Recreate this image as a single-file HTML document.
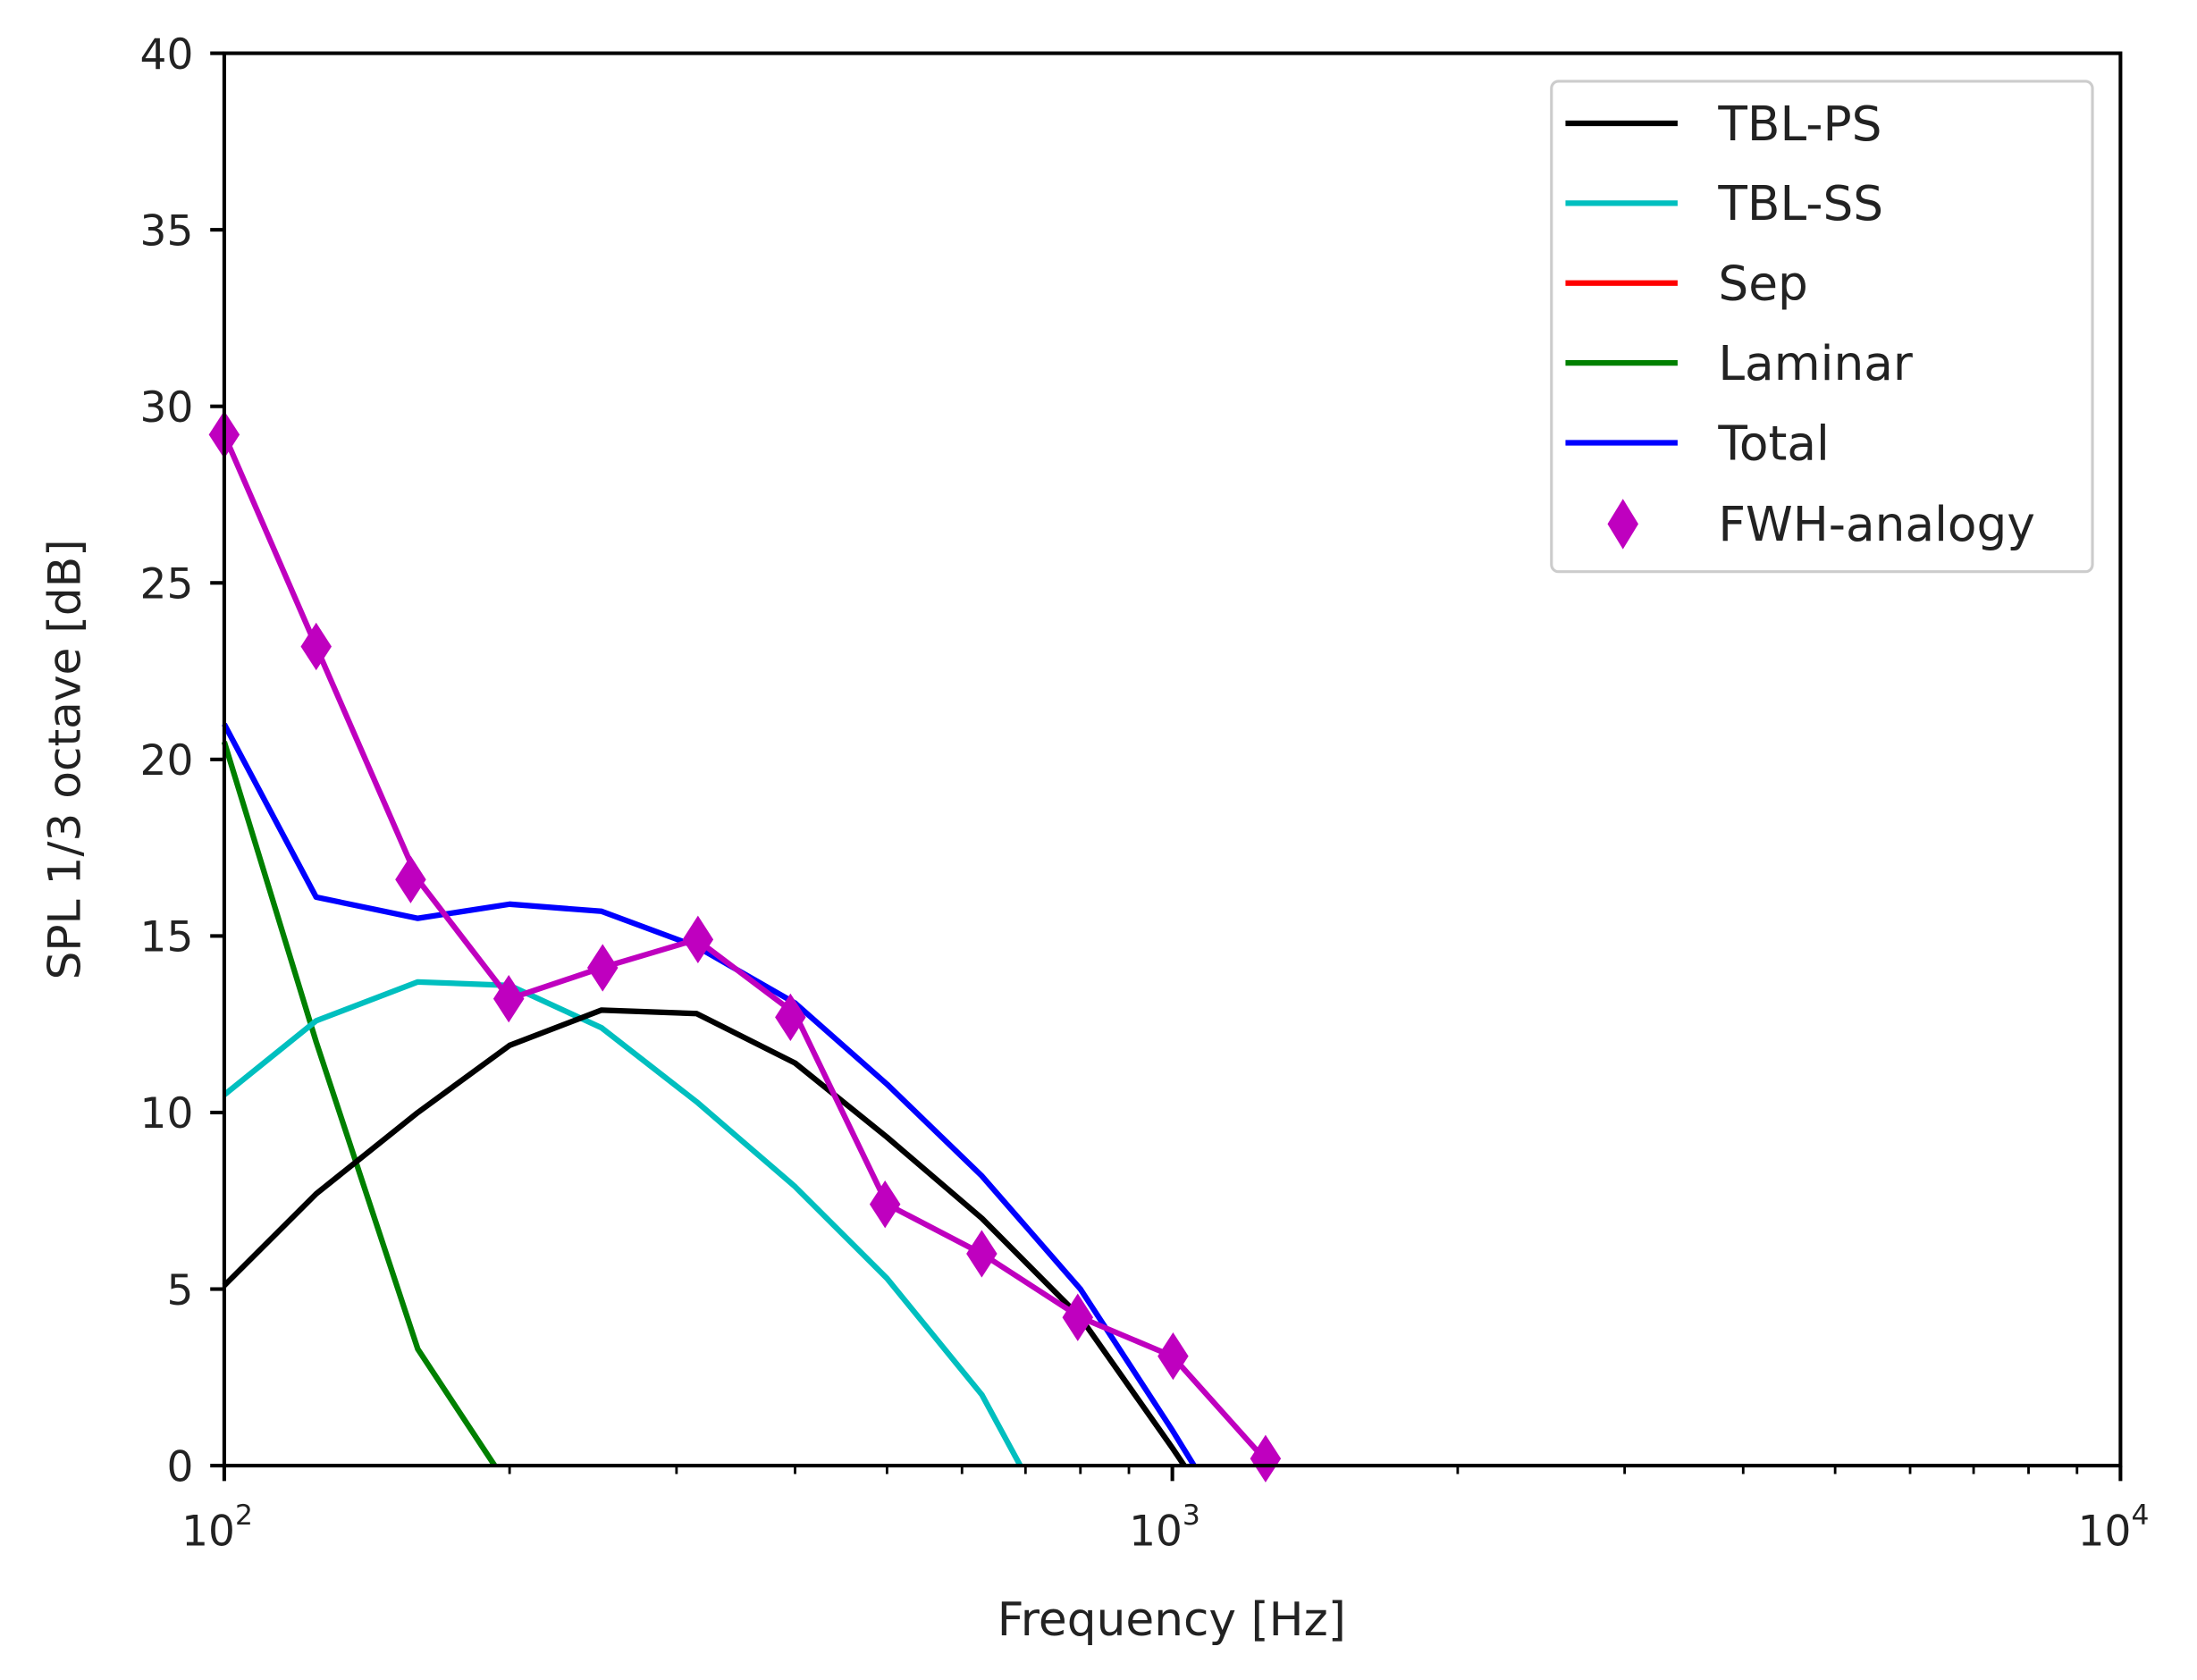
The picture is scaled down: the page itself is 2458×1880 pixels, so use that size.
<!DOCTYPE html>
<html><head><meta charset="utf-8"><style>html,body{margin:0;padding:0;background:#fff}svg{display:block}</style></head>
<body>
<svg width="2458" height="1880" viewBox="0 0 1567.6 1199" preserveAspectRatio="none" xmlns="http://www.w3.org/2000/svg" font-family="DejaVu Sans, Liberation Sans, sans-serif">
<rect width="1568" height="1199" fill="#fff"/>
<g fill="none" stroke-width="4" stroke-linejoin="round">
<polyline stroke="#008000" points="160,529.4 225.6,743.6 298.1,962.8 353,1046"/>
<polyline stroke="#00bfbf" points="160,781.4 225.6,728.5 298.1,700.8 363.6,703.3 429.2,733.5 497.1,786.4 567.3,846.9 632.9,912.4 700.7,995.6 728,1046"/>
<polyline stroke="#000" points="160,917.5 225.6,852 298.1,794 363.6,746.1 429.2,720.9 497.1,723.4 567.3,758.7 632.9,811.6 700.7,869.6 770.9,940.2 836.5,1033.4 845,1046"/>
<polyline stroke="#0000ff" points="160,516.8 225.6,640.3 298.1,655.4 363.6,645.3 429.2,650.4 497.1,675.6 567.3,715.9 632.9,773.8 700.7,839.4 770.9,920 836.5,1020.8 852,1046"/>
<polyline stroke="#bf00bf" points="160,310.2 225.6,461.4 298.1,627.7 363.6,712.8 429.2,690.7 497.1,670.5 567.3,723.4 632.9,859.5 700.7,894.8 770.9,940.2 836.5,967.9 902,1041"/>
</g>
<g fill="#bf00bf">
<path d="M0,-17 L11,0 L0,17 L-11,0Z" transform="translate(160,310.2)"/>
<path d="M0,-17 L11,0 L0,17 L-11,0Z" transform="translate(225.6,461.4)"/>
<path d="M0,-17 L11,0 L0,17 L-11,0Z" transform="translate(293,627.7)"/>
<path d="M0,-17 L11,0 L0,17 L-11,0Z" transform="translate(363,712.8)"/>
<path d="M0,-17 L11,0 L0,17 L-11,0Z" transform="translate(430,690.7)"/>
<path d="M0,-17 L11,0 L0,17 L-11,0Z" transform="translate(498,670.5)"/>
<path d="M0,-17 L11,0 L0,17 L-11,0Z" transform="translate(564,726)"/>
<path d="M0,-17 L11,0 L0,17 L-11,0Z" transform="translate(631.5,859.5)"/>
<path d="M0,-17 L11,0 L0,17 L-11,0Z" transform="translate(700.5,894.8)"/>
<path d="M0,-17 L11,0 L0,17 L-11,0Z" transform="translate(769,940.2)"/>
<path d="M0,-17 L11,0 L0,17 L-11,0Z" transform="translate(837,967.9)"/>
<path d="M0,-17 L11,0 L0,17 L-11,0Z" transform="translate(903,1041)"/>
</g>
<rect x="160" y="38" width="1353" height="1008" fill="none" stroke="#000" stroke-width="2.6"/>
<g stroke="#000" stroke-width="2.6">
<line x1="150" y1="38" x2="160" y2="38"/><line x1="150" y1="164" x2="160" y2="164"/><line x1="150" y1="290" x2="160" y2="290"/><line x1="150" y1="416" x2="160" y2="416"/><line x1="150" y1="542" x2="160" y2="542"/><line x1="150" y1="668" x2="160" y2="668"/><line x1="150" y1="794" x2="160" y2="794"/><line x1="150" y1="920" x2="160" y2="920"/><line x1="150" y1="1046" x2="160" y2="1046"/>
<line x1="160" y1="1046" x2="160" y2="1057"/><line x1="836.5" y1="1046" x2="836.5" y2="1057"/><line x1="1513" y1="1046" x2="1513" y2="1057"/>
</g>
<g stroke="#000" stroke-width="1.8">
<line x1="363.6" y1="1046" x2="363.6" y2="1052"/><line x1="482.7" y1="1046" x2="482.7" y2="1052"/><line x1="567.3" y1="1046" x2="567.3" y2="1052"/><line x1="632.9" y1="1046" x2="632.9" y2="1052"/><line x1="686.4" y1="1046" x2="686.4" y2="1052"/><line x1="731.7" y1="1046" x2="731.7" y2="1052"/><line x1="770.9" y1="1046" x2="770.9" y2="1052"/><line x1="805.5" y1="1046" x2="805.5" y2="1052"/>
<line x1="1040.1" y1="1046" x2="1040.1" y2="1052"/><line x1="1159.2" y1="1046" x2="1159.2" y2="1052"/><line x1="1243.8" y1="1046" x2="1243.8" y2="1052"/><line x1="1309.4" y1="1046" x2="1309.4" y2="1052"/><line x1="1362.9" y1="1046" x2="1362.9" y2="1052"/><line x1="1408.2" y1="1046" x2="1408.2" y2="1052"/><line x1="1447.4" y1="1046" x2="1447.4" y2="1052"/><line x1="1482" y1="1046" x2="1482" y2="1052"/>
</g>
<g font-size="30" fill="#222" text-anchor="end">
<text x="138" y="49">40</text><text x="138" y="175">35</text><text x="138" y="301">30</text><text x="138" y="427">25</text><text x="138" y="553">20</text><text x="138" y="679">15</text><text x="138" y="805">10</text><text x="138" y="931">5</text><text x="138" y="1057">0</text>
</g>
<g font-size="30" fill="#222" text-anchor="middle">
<text x="155" y="1103">10<tspan font-size="20" dy="-15">2</tspan></text>
<text x="831" y="1103">10<tspan font-size="20" dy="-15">3</tspan></text>
<text x="1508" y="1103">10<tspan font-size="20" dy="-15">4</tspan></text>
<text x="836" y="1167" font-size="33">Frequency [Hz]</text>
<text transform="translate(57,542) rotate(-90)" font-size="32">SPL 1/3 octave [dB]</text>
</g>
<rect x="1107" y="58" width="386" height="350" rx="5" fill="#fff" stroke="#ccc" stroke-width="2"/>
<g stroke-width="4">
<line x1="1117" y1="88" x2="1197" y2="88" stroke="#000"/>
<line x1="1117" y1="145" x2="1197" y2="145" stroke="#00bfbf"/>
<line x1="1117" y1="202" x2="1197" y2="202" stroke="#ff0000"/>
<line x1="1117" y1="259" x2="1197" y2="259" stroke="#008000"/>
<line x1="1117" y1="316" x2="1197" y2="316" stroke="#0000ff"/>
</g>
<path d="M0,-18 L11,0 L0,18 L-11,0Z" transform="translate(1158,374)" fill="#bf00bf"/>
<g font-size="34" fill="#222">
<text x="1226" y="100">TBL-PS</text><text x="1226" y="157">TBL-SS</text><text x="1226" y="214">Sep</text><text x="1226" y="271">Laminar</text><text x="1226" y="328">Total</text><text x="1226" y="386">FWH-analogy</text>
</g>
</svg>
</body></html>
